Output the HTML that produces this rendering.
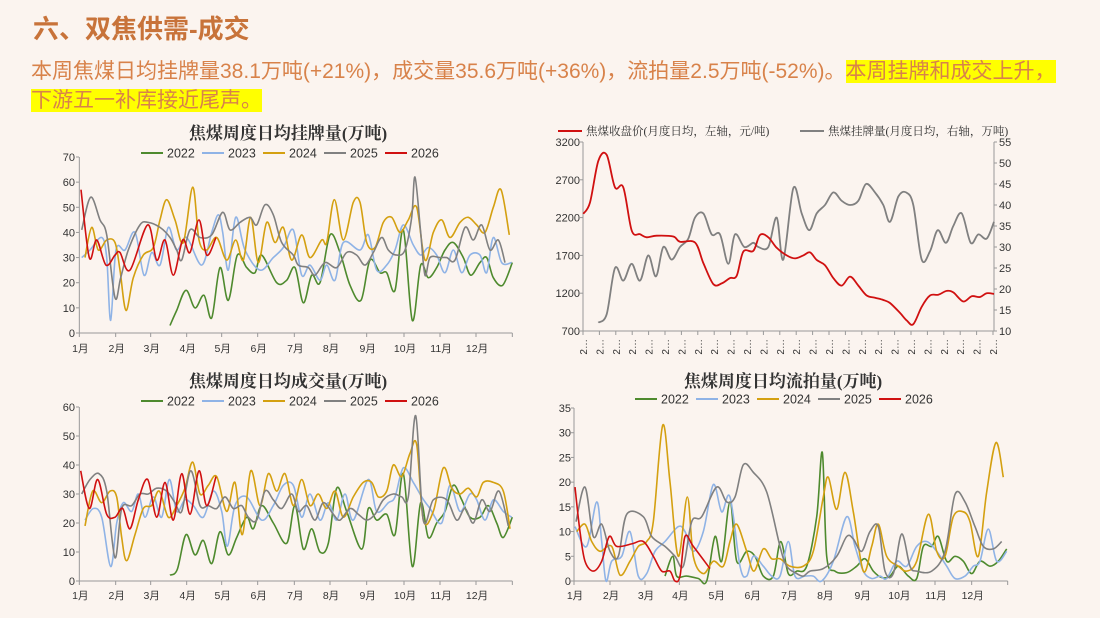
<!DOCTYPE html>
<html><head><meta charset="utf-8">
<style>
html,body{margin:0;padding:0;background:#FBF4EF;}
body{width:1100px;height:618px;position:relative;overflow:hidden;font-family:"Liberation Sans","Noto Sans CJK SC",sans-serif;}
.t{position:absolute;left:33px;top:9px;font-size:26px;font-weight:bold;color:#C8733A;}
.p{position:absolute;left:31px;font-size:21px;color:#D8824A;white-space:nowrap;line-height:28px;}
.hl{background:#FFFF00;}
svg{position:absolute;left:0;top:0;}
</style></head><body>
<div class="t">六、双焦供需-成交</div>
<div class="p" style="top:58px">本周焦煤日均挂牌量38.1万吨(+21%)，成交量35.6万吨(+36%)，流拍量2.5万吨(-52%)。<span class="hl">本周挂牌和成交上升，</span></div>
<div class="p" style="top:87px"><span class="hl">下游五一补库接近尾声。</span></div>
<svg id="s" width="1100" height="618" xmlns="http://www.w3.org/2000/svg"></svg>
<script>
var S=document.getElementById('s'),h='';
var C={g:'#4E8A2E',b:'#8FB3E6',y:'#D4A010',k:'#808080',r:'#D01010'};
function path(pts,col,w){if(pts.length<2)return;var d='M'+pts[0][0].toFixed(1)+','+pts[0][1].toFixed(1);
for(var i=0;i<pts.length-1;i++){var p0=pts[i-1]||pts[i],p1=pts[i],p2=pts[i+1],p3=pts[i+2]||p2;
var c1x=p1[0]+(p2[0]-p0[0])/6,c1y=p1[1]+(p2[1]-p0[1])/6,c2x=p2[0]-(p3[0]-p1[0])/6,c2y=p2[1]-(p3[1]-p1[1])/6;
d+='C'+c1x.toFixed(1)+','+c1y.toFixed(1)+' '+c2x.toFixed(1)+','+c2y.toFixed(1)+' '+p2[0].toFixed(1)+','+p2[1].toFixed(1);}
h+='<path d="'+d+'" fill="none" stroke="'+col+'" stroke-width="'+(w||1.6)+'"/>';}
function txt(x,y,s,sz,anc,extra){h+='<text x="'+x+'" y="'+y+'" font-size="'+sz+'" text-anchor="'+(anc||'middle')+'" fill="#333" '+(extra||'')+'>'+s+'</text>';}
function line(x1,y1,x2,y2,c){h+='<line x1="'+x1+'" y1="'+y1+'" x2="'+x2+'" y2="'+y2+'" stroke="'+(c||'#999')+'" stroke-width="1"/>';}
function conv(arr,ox,fy){var o=[];for(var i=0;i<arr.length;i+=2)o.push([ox+arr[i]/3,fy(arr[i+1])]);return o;}
var serif='font-family="Liberation Serif,Noto Serif CJK SC,serif" font-weight="bold"';
function legend(x0,y){var ys=['2022','2023','2024','2025','2026'],cs=[C.g,C.b,C.y,C.k,C.r];
for(var i=0;i<5;i++){var x=x0+i*61;h+='<line x1="'+x+'" y1="'+y+'" x2="'+(x+22)+'" y2="'+y+'" stroke="'+cs[i]+'" stroke-width="2"/>';txt(x+26,y+4.5,ys[i],12.5,'start');}}
function monthAxis(ox,xs,ybase,ytop,lab){line(ox+xs[0]/3,ytop,ox+xs[0]/3,ybase);line(ox+xs[0]/3,ybase,ox+xs[xs.length-1]/3,ybase);
for(var i=0;i<xs.length;i++){var x=ox+xs[i]/3;line(x,ybase,x,ybase+4);if(i<12)txt(x+1,lab,(i+1)+'月',10.5);}}
function yAxis(x,vals,fy,anc,dx){for(var i=0;i<vals.length;i++){var y=fy(vals[i]);line(x-3,y,x,y);txt(x+dx,y+4,vals[i],11,anc);}}
var mx=[238,347,452,560,665,773,883,990,1100,1212,1320,1428,1537];

var f1=function(v){return 333-v*176/70;};
txt(288,139,'焦煤周度日均挂牌量(万吨)',17,'middle',serif);
legend(141,153);
monthAxis(0,mx,333,157,352);
yAxis(79,[0,10,20,30,40,50,60,70],f1,'end',-4);
path(conv([510,3,530,9,558,17,585,10,612,15,635,6,660,26,685,13,712,31,740,26,765,24,785,31,830,20,860,21,885,26,910,12,935,23,960,20,990,39,1020,32,1050,19,1083,13,1110,29,1140,24,1160,24,1185,17,1210,41,1237,5,1262,27,1285,22,1310,26,1335,33,1360,36,1390,30,1412,23,1440,28,1460,30,1480,22,1508,19,1537,28],0,f1),C.g);
path(conv([245,30,270,33,305,38,320,30,332,5,348,33,375,33,405,40,432,23,455,32,480,27,505,42,530,33,560,38,605,27,635,40,655,47,668,40,685,25,707,46,735,33,780,25,820,30,850,34,880,41,905,23,930,27,960,21,980,27,1005,21,1030,36,1080,33,1105,39,1130,25,1160,27,1185,33,1210,43,1240,35,1262,31,1285,34,1310,31,1335,24,1360,33,1385,24,1410,31,1440,31,1460,24,1480,38,1505,28,1535,28],0,f1),C.b);
path(conv([255,30,275,42,295,33,320,37,345,36,360,25,378,9,400,22,430,31,460,34,480,45,500,53,525,45,550,36,578,58,597,37,620,33,650,38,680,29,707,37,730,29,752,46,775,28,800,44,825,36,850,42,875,29,905,39,930,30,965,37,980,36,1003,53,1030,37,1060,52,1080,52,1100,36,1125,34,1150,44,1175,46,1200,40,1225,45,1250,50,1275,29,1300,40,1325,45,1350,38,1380,44,1405,46,1430,43,1455,40,1480,50,1503,57,1528,39],0,f1),C.y);
path(conv([245,41,272,54,300,45,320,39,345,14,362,22,385,33,420,43,445,44,480,42,510,38,530,33,545,29,570,41,600,38,635,39,668,48,690,41,720,44,750,46,770,43,795,51,820,47,845,36,880,31,895,27,925,26,945,23,975,28,1010,26,1040,32,1070,31,1095,27,1120,32,1145,38,1165,33,1190,31,1215,33,1235,46,1245,62,1262,40,1275,23,1290,30,1320,30,1340,30,1365,29,1395,42,1420,37,1445,43,1470,33,1495,37,1515,28],0,f1),C.k);
path(conv([243,57,268,30,290,37,318,27,345,31,360,32,390,25,443,43,470,29,495,37,520,23,548,37,570,32,597,45,620,31,648,38],0,f1),C.r);

var f3=function(v){return 581-v*174/60;};
txt(288,387,'焦煤周度日均成交量(万吨)',17,'middle',serif);
legend(141,401);
monthAxis(0,mx,581,407,599);
yAxis(79,[0,10,20,30,40,50,60],f3,'end',-4);
path(conv([510,2,532,4,558,16,585,9,610,14,635,6,660,17,685,9,710,15,740,22,760,18,785,26,820,20,860,13,885,26,910,11,935,18,960,10,985,13,1010,32,1040,24,1085,11,1105,25,1130,21,1160,23,1185,16,1210,37,1237,5,1262,27,1285,15,1310,20,1335,24,1360,33,1385,28,1410,22,1440,22,1465,26,1490,20,1510,15,1537,22],0,f3),C.g);
path(conv([255,21,280,25,305,22,332,5,350,20,370,27,395,24,415,30,435,22,460,29,485,22,508,35,530,24,555,28,580,26,610,22,640,31,665,24,682,12,705,26,740,29,785,21,820,26,850,33,880,33,905,22,930,30,960,21,985,27,1010,21,1035,30,1060,21,1105,35,1130,24,1165,27,1185,29,1210,39,1240,34,1265,29,1290,25,1325,20,1350,33,1380,24,1410,30,1430,28,1455,21,1480,28,1510,24,1535,22],0,f3),C.b);
path(conv([255,19,278,31,305,27,330,31,350,29,365,15,380,7,405,16,430,25,455,26,478,31,505,22,530,26,555,32,578,41,600,30,625,33,650,36,680,24,705,34,727,16,752,38,780,26,805,37,830,31,855,37,880,26,905,35,930,26,955,30,980,25,1005,31,1030,22,1060,29,1090,34,1115,34,1135,29,1160,31,1180,40,1205,36,1230,44,1250,47,1270,21,1300,24,1330,39,1355,32,1380,30,1405,32,1430,29,1450,34,1480,34,1510,31,1530,18],0,f3),C.y);
path(conv([245,30,270,35,297,37,320,31,345,8,365,25,395,26,420,30,445,30,470,32,500,31,525,27,545,24,572,38,600,26,625,26,650,25,675,29,700,25,725,26,745,22,770,21,795,31,820,28,845,25,875,30,895,24,920,26,945,21,970,27,1000,23,1020,21,1050,25,1075,23,1100,21,1125,23,1150,28,1180,30,1205,29,1225,29,1247,57,1270,21,1300,28,1340,28,1370,21,1395,25,1420,20,1445,28,1470,24,1497,31,1525,19],0,f3),C.k);
path(conv([242,38,268,25,293,35,320,23,345,22,368,25,390,18,415,28,443,35,470,22,495,34,520,21,545,37,570,23,597,38,620,26,648,36],0,f3),C.r);

var f4=function(v){return 581-v*173/35;};
var mx4=[72,180,285,388,497,605,715,823,935,1045,1155,1265,1373];
txt(783,387,'焦煤周度日均流拍量(万吨)',17,'middle',serif);
legend(635,399);
monthAxis(550,mx4,581,408,599);
yAxis(574,[0,5,10,15,20,25,30,35],f4,'end',-3);
path(conv([345,1,368,5,380,1,410,1,445,0.5,470,0,495,9,515,4,540,16,560,4,590,6,615,5,640,1,670,1,692,8,715,1.5,740,2,770,3,800,13,817,26,830,5,855,2,890,1.7,920,3,945,4.5,970,2,995,0.7,1020,1,1045,3,1075,1,1100,0.5,1120,7,1145,7,1165,9,1190,4,1215,5,1240,4,1265,1.5,1290,4,1320,3,1345,4,1370,6.5],550,f4),C.g);
path(conv([75,11,110,7,140,16,155,8,168,0,185,4,215,5,240,10,265,1,290,1.5,315,6,345,8,385,11,405,10,430,6,460,10,490,19.5,515,14,540,17,570,3,590,1,610,5,640,3,665,1,690,1,715,8,735,1,765,1,790,1,815,0,850,4,890,13,915,7,940,2,965,0.5,990,1,1010,0.5,1040,4,1070,3,1100,7,1130,8,1160,6,1190,3,1215,0.5,1245,1,1270,3,1290,4,1315,10.5,1340,4,1370,6],550,f4),C.b);
path(conv([80,10,105,11.5,125,8,150,6,185,7,210,1.2,240,4,265,7,290,8,310,12,338,31.5,360,20,385,5,412,17,430,5,460,1.5,490,4,520,3,540,8,560,11.5,590,6,612,2,640,6.5,665,4.5,690,4.5,720,3,760,3,790,6,820,17,835,21,860,14.5,885,22,910,14,940,2,965,7,985,11.5,1010,5,1045,3,1070,2,1100,4,1135,13.5,1160,6,1185,5,1210,13,1240,14,1260,12,1285,5,1310,18,1338,28,1360,21],550,f4),C.y);
path(conv([78,12,105,19,130,9,155,11.5,180,6,205,5,230,13.5,280,13,305,9,345,7,375,5,400,3,425,12,455,13,500,19,530,16,555,17,580,23.5,610,22,650,18,690,7,710,3,740,1.5,760,1,780,2,820,2.5,860,5,890,9,910,8.5,935,6,960,10,985,11,1005,2,1030,1.5,1055,9.5,1080,3,1100,2,1145,2,1185,6,1215,17.5,1245,16,1275,11,1300,7,1330,6.5,1355,8],550,f4),C.k);
path(conv([75,19,90,10,105,4,130,2,155,4,178,9,200,7,245,7.5,280,8,310,5,335,2,360,2,375,0,390,1,405,9,430,7,480,2.5],550,f4),C.r);

var fL=function(v){return 142+(3200-v)*189/2500;},fR=function(v){return 142+(55-v)*4.2;};
line(583,142,583,331);line(583,331,994,331);line(994,142,994,331);
yAxis(583,[700,1200,1700,2200,2700,3200],fL,'end',-3);
for(var v=10;v<=55;v+=5){var y=fR(v);line(994,y,997,y);txt(999,y+4,v,11,'start');}
for(var i=0;i<26;i++){var x=583+i*16.4;line(x,331,x,335);h+='<text transform="translate('+(x+4)+',339) rotate(-90)" font-size="10" text-anchor="end" fill="#333">2…</text>';}
h+='<line x1="558" y1="131" x2="582" y2="131" stroke="#D01010" stroke-width="2"/>';
txt(586,135,'焦煤收盘价(月度日均，左轴，元/吨)',11.5,'start','font-family="Liberation Serif,Noto Serif CJK SC,serif"');
h+='<line x1="800" y1="131" x2="824" y2="131" stroke="#808080" stroke-width="2"/>';
txt(828,135,'焦煤挂牌量(月度日均，右轴，万吨)',11.5,'start','font-family="Liberation Serif,Noto Serif CJK SC,serif"');
path(conv([145,12,170,14,195,25,220,22,245,26,270,22,295,28,318,23,340,30,365,27,390,30,415,32,435,37,460,38,485,33,510,33,535,26,555,33,583,30,610,31,625,30,655,30,680,37,700,27,730,44,755,38,778,34,800,38,825,40,850,43,875,41,900,40,925,41,948,45,975,43,1000,40,1020,36,1045,42,1068,43,1090,40,1115,27,1140,29,1163,34,1188,31,1210,35,1235,38,1262,31,1285,33,1310,32,1332,36],550,fR),C.k,1.8);
path(conv([100,2250,120,2400,145,2950,170,3030,195,2600,220,2600,245,2030,270,1980,290,1940,320,1960,370,1950,390,1880,435,1870,460,1600,490,1320,515,1330,540,1400,560,1430,580,1750,610,1760,630,1970,655,1940,680,1800,710,1700,735,1660,760,1700,780,1740,800,1640,825,1570,850,1400,875,1300,900,1420,925,1300,950,1170,975,1140,1000,1110,1020,1070,1050,940,1070,840,1090,790,1115,1020,1140,1170,1165,1180,1190,1230,1210,1210,1240,1090,1265,1160,1290,1150,1310,1200,1332,1190],550,fL),C.r,1.8);
S.innerHTML=h;
</script>
</body></html>
